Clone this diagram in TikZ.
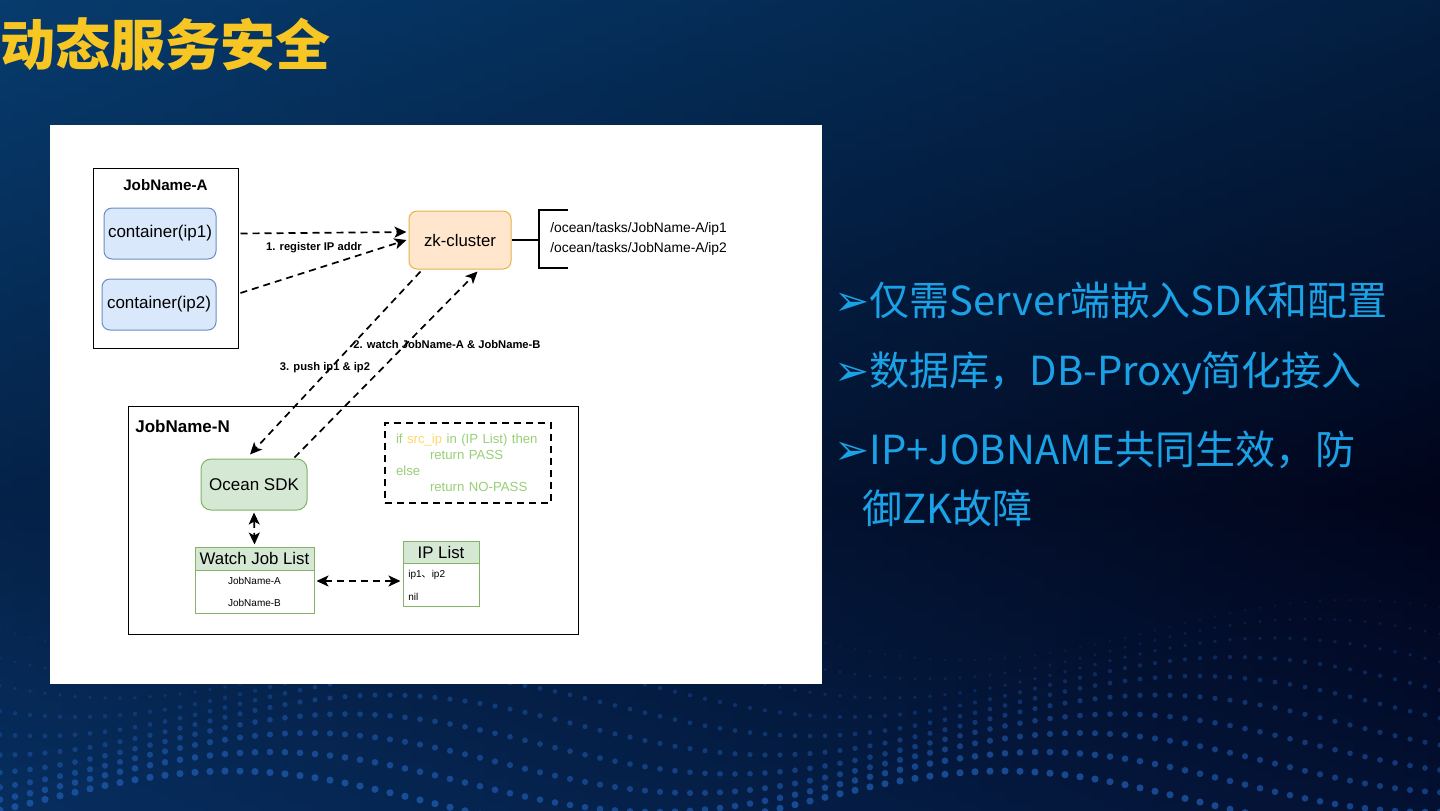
\documentclass[tikz,border=0pt]{standalone}
\usepackage{fontspec}
\setmainfont{Liberation Sans}
\newfontfamily\cjk{Noto Sans CJK SC}
\newfontfamily\sym{DejaVu Sans}
\usetikzlibrary{arrows.meta}

\definecolor{bgtop}{HTML}{073C6E}
\definecolor{bgmid}{HTML}{020822}
\definecolor{bgbot}{HTML}{072050}
\definecolor{bgdark}{HTML}{010215}
\definecolor{dotc}{HTML}{2160B8}
\definecolor{titley}{HTML}{F8C623}
\definecolor{bulletc}{HTML}{1BA1E6}
\definecolor{cbluef}{HTML}{DAE8FC}
\definecolor{cbluel}{HTML}{6C8EBF}
\definecolor{zkf}{HTML}{FFE6CC}
\definecolor{zkl}{HTML}{E3B448}
\definecolor{sdkf}{HTML}{D5E8D4}
\definecolor{sdkl}{HTML}{82B366}
\definecolor{codeg}{HTML}{97D077}
\definecolor{codey}{HTML}{FFD966}

\begin{document}
\begin{tikzpicture}[x=0.5pt, y=-0.5pt,
    every node/.style={inner sep=0pt},
    jobbox/.style={draw=black, line width=0.5pt},
    jobtitle/.style={font=\fontsize{7.6}{9}\selectfont\bfseries},
    cont/.style={draw=cbluel, fill=cbluef, rounded corners=4pt, line width=0.5pt, font=\fontsize{8.5}{10}\selectfont},
    zkbox/.style={draw=zkl, fill=zkf, rounded corners=4pt, line width=0.5pt, font=\fontsize{8.4}{10}\selectfont},
    sdkbox/.style={draw=sdkl, fill=sdkf, rounded corners=5pt, line width=0.5pt, font=\fontsize{8.5}{10}\selectfont},
    tabhead/.style={draw=sdkl, fill=sdkf, line width=0.5pt, font=\fontsize{8.4}{10}\selectfont},
    tabbody/.style={draw=sdkl, fill=white, line width=0.5pt},
    row/.style={font=\fontsize{5}{6}\selectfont},
    zkpath/.style={anchor=west, font=\fontsize{6.9}{9}\selectfont},
    lbl/.style={font=\fontsize{5.6}{7}\selectfont\bfseries},
    flow/.style={dash pattern=on 3.5pt off 2.5pt, line width=0.85pt, -{Stealth[length=6pt, width=5.5pt, inset=1.5pt]}},
    flowboth/.style={flow, {Stealth[length=6pt, width=5.5pt, inset=1.5pt]}-{Stealth[length=6pt, width=5.5pt, inset=1.5pt]}},
    codebox/.style={draw=black, dash pattern=on 3.5pt off 2.5pt, line width=0.8pt, inner xsep=5.5pt, text=codeg, align=left, font=\fontsize{6.6}{8}\selectfont},
    bullet/.style={anchor=west, text=bulletc, font=\cjk\fontsize{20}{29.5}\selectfont, align=left}]

% background
\useasboundingbox (0,0) rectangle (1440,810);
\shade[top color=bgtop, bottom color=bgmid] (0,0) rectangle (1440,500);
\shade[top color=bgmid, bottom color=bgbot] (0,500) rectangle (1440,810);
\shade[left color=bgtop, right color=bgdark, opacity=0.5] (0,0) rectangle (1440,810);
\foreach \j in {0,...,9}
  \foreach \i in {0,...,96} {
    \pgfmathsetmacro\yy{630 + \j*19 + 30*sin(\i*7 + \j*18)}
    \pgfmathsetmacro\op{0.15 + 0.06*\j}
    \fill[dotc, opacity=\op] (\i*15, \yy) circle (0.7pt + 0.12pt*\j);
  }

% title
\node[anchor=west, text=titley, font=\cjk\bfseries\fontsize{27.5}{30}\selectfont] (title) at (0,44) {动态服务安全};

% diagram panel
\fill[white] (50,125) rectangle (822,684);

\node[jobbox, minimum width=72.5pt, minimum height=90pt] (joba) at (165.5,258) {};
\node[jobtitle] (jobat) at (165.5,185) {JobName-A};
\node[cont, minimum width=56pt, minimum height=25.5pt] (ip1) at (160,233.5) {container(ip1)};
\node[cont, minimum width=57pt, minimum height=25.5pt] (ip2) at (159,304.5) {container(ip2)};

\node[zkbox, minimum width=51pt, minimum height=29pt] (zk) at (460,240) {zk-cluster};
\coordinate (brk) at (539,240);
\draw[line width=0.8pt] (zk.east) -- (brk);
\draw[line width=0.8pt] (568,210) -- (539,210) -- (539,268) -- (568,268);
\node[zkpath] (path1) at (550,229) {/ocean/tasks/JobName-A/ip1};
\node[zkpath] (path2) at (550,249) {/ocean/tasks/JobName-A/ip2};

\draw[flow] ([xshift=1pt]ip1.east -| joba.east) -- ([xshift=-1pt, yshift=4pt]zk.west);
\draw[flow] ([xshift=1pt, yshift=5.75pt]ip2.east -| joba.east) -- ([xshift=-1pt]zk.west);
\node[lbl] (lbl1) at (314,248) {1. register IP addr};

\node[jobbox, minimum width=225pt, minimum height=114pt] (jobn) at (353,520) {};
\node[anchor=west, font=\fontsize{8.5}{10}\selectfont\bfseries] (jobnt) at (135,426) {JobName-N};

\node[sdkbox, minimum width=53pt, minimum height=25.5pt] (sdk) at (254,484.5) {Ocean SDK};

\draw[flow] ([xshift=6pt, yshift=-1pt]zk.south west) -- ([xshift=-2pt, yshift=2pt]sdk.north);
\draw[flow] ([xshift=-6.5pt, yshift=0.5pt]sdk.north east) -- ([xshift=-17pt, yshift=-1pt]zk.south east);
\node[lbl] (lbl2) at (447,344) {2. watch JobName-A \& JobName-B};
\node[lbl] (lbl3) at (325,368) {3. push ip1 \& ip2};

\node[codebox, text width=72pt, minimum height=40pt] (code) at (468,463)
  {if \textcolor{codey}{src\_ip} in (IP List) then\\
   \hspace*{17pt}return PASS\\
   else\\
   \hspace*{17pt}return NO-PASS};

\node[tabhead, minimum width=59.5pt, minimum height=11.5pt] (wh) at (254.5,558.5) {Watch Job List};
\node[tabbody, minimum width=59.5pt, minimum height=21.5pt] (wb) at (254.5,591.5) {};
\node[row] (wa) at (254.5,581) {JobName-A};
\node[row] (wbn) at (254.5,603) {JobName-B};

\node[tabhead, minimum width=38pt, minimum height=11pt] (iph) at (441,552) {IP List};
\node[tabbody, minimum width=38pt, minimum height=21.5pt] (ipb) at (441,584.5) {};
\node[row, anchor=west] (ipa) at (408,575) {ip1{\cjk 、}ip2};
\node[row, anchor=west] (ipn) at (408,597) {nil};

\draw[flowboth] ([yshift=-1pt]sdk.south) -- ([yshift=1pt]wh.north);
\draw[flowboth] ([xshift=1pt]wb.east |- wa) -- ([xshift=-1pt]ipb.west |- wa);

% bullets
\node[bullet] (b1) at (834,300) {{\sym\fontsize{21}{21}\selectfont ➢}仅需Server端嵌入SDK和配置};
\node[bullet] (b2) at (834,373) {{\sym\fontsize{21}{21}\selectfont ➢}数据库，DB-Proxy简化接入};
\node[bullet, anchor=north west] (b3) at (834,430) {{\sym\fontsize{21}{21}\selectfont ➢}IP+JOBNAME共同生效，防\\
  \hspace*{14pt}御ZK故障};
\end{tikzpicture}
\end{document}
